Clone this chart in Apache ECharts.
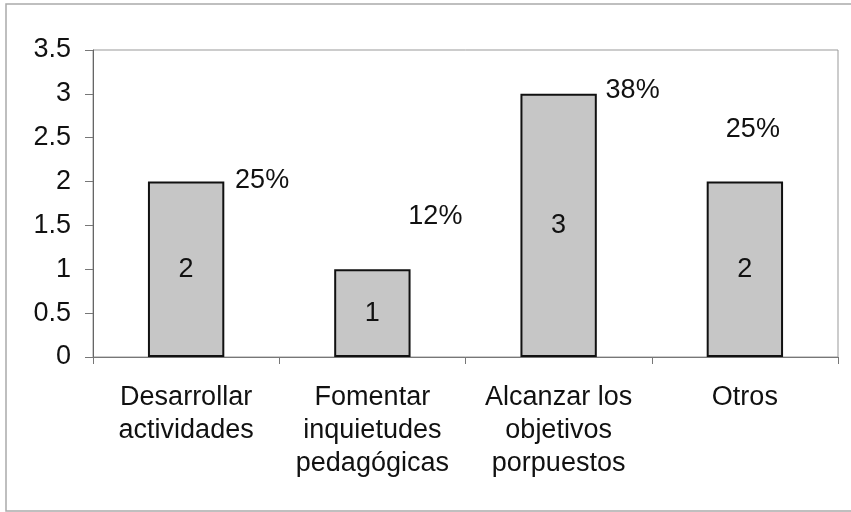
<!DOCTYPE html>
<html>
<head>
<meta charset="utf-8">
<script src="https://cdn.jsdelivr.net/npm/echarts@6/dist/echarts.min.js"></script>
<style>
  html, body { margin: 0; padding: 0; background: #fff; }
  #main { width: 851px; height: 512px; }
</style>
</head>
<body>
<div id="main"></div>
<script>
var categories = ['Desarrollar\nactividades', 'Fomentar\ninquietudes\npedagógicas', 'Alcanzar los\nobjetivos\nporpuestos', 'Otros'];
var counts = [2, 1, 3, 2];
var percents = ['25%', '12%', '38%', '25%'];
// where each percent label sits relative to the bar top (px)
var pctOffsets = [[76, -1], [63, -53], [74, -3], [8, -52]];

var font = "'Liberation Sans', Arial, sans-serif";
var myChart = echarts.init(document.getElementById('main'));

var pctData = counts.map(function (v, i) {
    return {
        value: v,
        label: { offset: pctOffsets[i] }
    };
});

myChart.setOption({
    animation: false,
    backgroundColor: '#fff',
    textStyle: { fontFamily: font },
    graphic: [{
        type: 'rect',
        shape: { x: 6, y: 4, width: 860, height: 507 },
        style: { fill: 'none', stroke: '#aaa', lineWidth: 1.5 },
        silent: true
    }],
    grid: {
        left: 93, top: 50, right: 13, bottom: 155,
        show: true,
        borderColor: '#999',
        borderWidth: 1
    },
    xAxis: {
        type: 'category',
        data: categories,
        axisLine: { lineStyle: { color: '#777', width: 1 } },
        axisTick: { show: true, length: 7, lineStyle: { color: '#777' } },
        axisLabel: {
            interval: 0,
            margin: 24,
            fontSize: 27,
            lineHeight: 33,
            color: '#111',
            fontFamily: font
        }
    },
    yAxis: {
        type: 'value',
        min: 0,
        max: 3.5,
        interval: 0.5,
        splitLine: { show: false },
        axisLine: { show: true, lineStyle: { color: '#666' } },
        axisTick: { show: true, length: 8, lineStyle: { color: '#777' } },
        axisLabel: {
            margin: 22,
            fontSize: 27,
            color: '#111',
            fontFamily: font
        }
    },
    series: [
        {
            type: 'bar',
            data: counts,
            barWidth: '41%',
            itemStyle: { color: '#c6c6c6', borderColor: '#111', borderWidth: 2 },
            label: {
                show: true,
                position: 'inside',
                fontSize: 27,
                color: '#111',
                fontFamily: font
            }
        },
        {
            // overlay series only carrying the percentage labels
            type: 'bar',
            data: pctData,
            barWidth: '41%',
            barGap: '-100%',
            silent: true,
            itemStyle: { color: 'rgba(0,0,0,0)' },
            label: {
                show: true,
                position: 'top',
                distance: 0,
                verticalAlign: 'middle',
                fontSize: 27,
                color: '#111',
                fontFamily: font,
                formatter: function (p) { return percents[p.dataIndex]; }
            }
        }
    ]
});
</script>
</body>
</html>
